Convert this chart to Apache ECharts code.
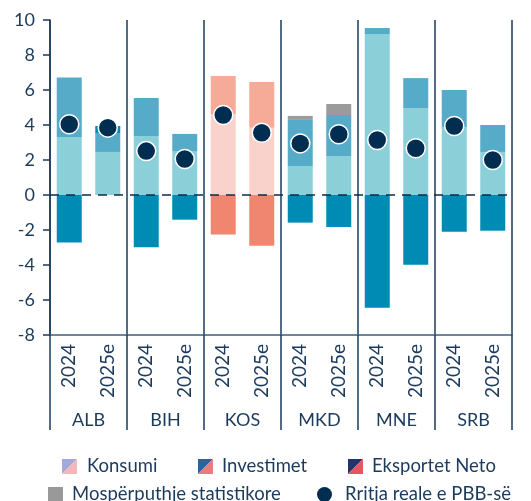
<!DOCTYPE html>
<html>
<head>
<meta charset="utf-8">
<script src="https://cdn.jsdelivr.net/npm/echarts@6/dist/echarts.min.js"></script>
<style>html,body{margin:0;padding:0;background:#fff}#c{width:531px;height:501px}</style>
</head>
<body>
<div id="c"></div>
<script>
const years = ['2024','2025e','2024','2025e','2024','2025e','2024','2025e','2024','2025e','2024','2025e'];
const groups = ['ALB','BIH','KOS','MKD','MNE','SRB'];
const konsumi    = [3.31, 2.46, 3.37, 2.51, 4.63, 3.85, 1.66, 2.23, 9.20, 4.97, 3.89, 2.46];
const investimet = [3.41, 1.08, 2.17, 0.98, 2.17, 2.61, 2.63, 2.34, 0.34, 1.71, 2.11, 1.54];
const eksportet  = [-2.72, 0.40, -2.99, -1.41, -2.25, -2.90, -1.58, -1.83, -6.44, -3.98, -2.10, -2.04];
const mosperputhje = [0, 0, 0, 0, 0, 0, 0.23, 0.63, 0, 0, 0, 0];
const rritja     = [4.04, 3.85, 2.51, 2.06, 4.57, 3.56, 2.95, 3.47, 3.14, 2.67, 3.94, 2.00];
const yTicks = [-8, -6, -4, -2, 0, 2, 4, 6, 8, 10];

const kosIdx = [4, 5];
const txt = '#1b3a5c';
const font = 'Lato';
function colorFn(blue, pink) {
  return p => kosIdx.includes(p.dataIndex) ? pink : blue;
}
function splitIcon(c1, c2) {
  const svg = '<svg xmlns="http://www.w3.org/2000/svg" width="15" height="15"><polygon points="0,0 15,0 0,15" fill="' + c1 + '"/><polygon points="15,0 15,15 0,15" fill="' + c2 + '"/></svg>';
  return 'image://data:image/svg+xml;charset=utf-8,' + encodeURIComponent(svg);
}
function legendItem(left, top, item, pad) {
  return {
    left: left, top: top, itemWidth: 15, itemHeight: 15,
    textStyle: {fontSize: 18.5, color: txt, fontFamily: font, padding: [0, 0, 0, pad]},
    data: [item]
  };
}

const chart = echarts.init(document.getElementById('c'), null, {renderer: 'canvas'});
chart.setOption({
  animation: false,
  textStyle: {fontFamily: font, color: txt},
  grid: {left: 50, right: 19, top: 20, bottom: 166},
  legend: [
    legendItem(57, 452, {name: 'Konsumi', icon: splitIcon('#a3a9dc', '#f6b5b8')}, 5),
    legendItem(193, 452, {name: 'Investimet', icon: splitIcon('#2666a0', '#ea7c80')}, 4),
    legendItem(343, 452, {name: 'Eksportet Neto', icon: splitIcon('#24336b', '#e8555f')}, 4),
    legendItem(43, 480, {name: 'Mospërputhje statistikore', icon: 'rect', itemStyle: {color: '#999999'}}, 4),
    legendItem(312, 480, {name: 'Rritja reale e PBB-së', icon: 'circle', itemStyle: {color: '#002d50', borderWidth: 0}}, 8)
  ],
  xAxis: [
    {
      type: 'category', data: years, position: 'bottom',
      axisLine: {show: false}, axisTick: {show: false},
      axisLabel: {rotate: 90, fontSize: 19, color: txt, margin: 9, fontFamily: font}
    },
    {
      type: 'category', data: groups, position: 'bottom',
      axisLine: {show: true, lineStyle: {color: '#3f5f7e', width: 1.5}},
      axisTick: {show: true, length: 95, lineStyle: {color: '#1b3a5c', width: 1.5}},
      axisLabel: {fontSize: 18, color: txt, margin: 76, fontFamily: font},
      splitLine: {show: true, lineStyle: {color: '#1b3a5c', width: 1.5}}
    }
  ],
  yAxis: {
    type: 'value', min: -8, max: 10, interval: 2,
    axisLine: {show: true, lineStyle: {color: '#1b3a5c', width: 1.5}},
    axisTick: {show: true, length: 7, lineStyle: {color: '#1b3a5c', width: 1.5}},
    axisLabel: {fontSize: 18, color: txt, margin: 15, fontFamily: font,
      formatter: v => yTicks.includes(v) ? String(v) : ''},
    splitLine: {show: false}
  },
  series: [
    {
      name: 'Konsumi', type: 'bar', stack: 'a', barWidth: 25, data: konsumi,
      itemStyle: {color: colorFn('#8bcfd9', '#f9d3cb')},
      markLine: {
        silent: true, symbol: 'none', label: {show: false}, z: 5,
        lineStyle: {color: '#0d2b4a', type: [9, 7], width: 1.5},
        data: [{yAxis: 0}]
      }
    },
    {
      name: 'Investimet', type: 'bar', stack: 'a', barWidth: 25, data: investimet,
      itemStyle: {color: colorFn('#56abc9', '#f5ab98')}
    },
    {
      name: 'Eksportet Neto', type: 'bar', stack: 'a', barWidth: 25, data: eksportet,
      itemStyle: {color: colorFn('#008bb4', '#f0866f')}
    },
    {
      name: 'Mospërputhje statistikore', type: 'bar', stack: 'a', barWidth: 25, data: mosperputhje,
      itemStyle: {color: '#9b9b9b'}
    },
    {
      name: 'Rritja reale e PBB-së', type: 'scatter', data: rritja, z: 10,
      symbol: 'circle', symbolSize: 19,
      itemStyle: {color: '#002d50', borderColor: '#ffffff', borderWidth: 1.5, opacity: 1}
    }
  ]
});
</script>
</body>
</html>
